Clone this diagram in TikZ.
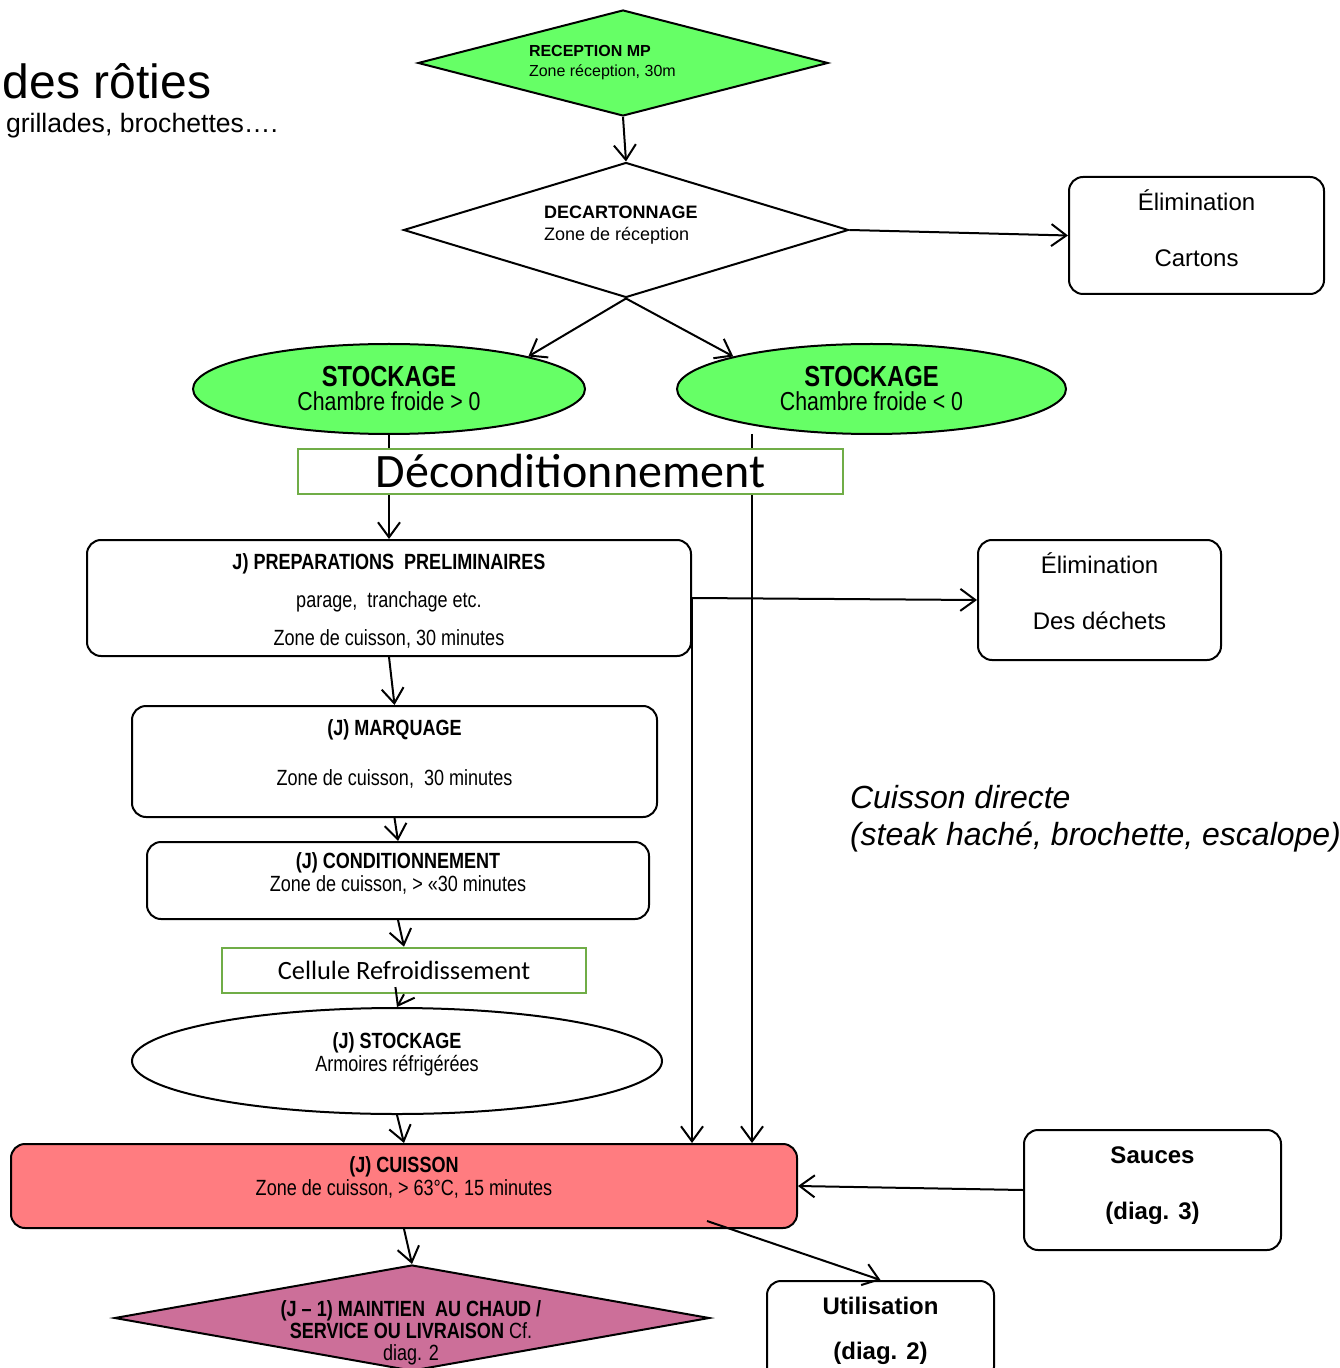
\documentclass[tikz,border=0pt]{standalone}
\usepackage{fontspec}
\setmainfont{Liberation Sans}
\newfontfamily\narrowfont[FakeStretch=0.82]{Liberation Sans}
\newfontfamily\calibrifont{Carlito}
\usepackage{xcolor}
\usetikzlibrary{arrows.meta,shapes.geometric}
\definecolor{vertmp}{HTML}{66FF66}
\definecolor{vertcadre}{HTML}{70AD47}
\definecolor{rougecuisson}{HTML}{FF7C80}
\definecolor{roseservice}{HTML}{CC6F99}

\begin{document}
\begin{tikzpicture}[x=0.5pt, y=-0.5pt, line width=1pt,
  fleche/.style={-{Straight Barb[length=7.5pt,width=11pt]}},
  etape/.style={draw, rounded corners=7pt, align=center, inner sep=0pt,
    font=\narrowfont\fontsize{11}{11.5}\selectfont},
  sortie/.style={draw, rounded corners=7pt, align=center, inner sep=0pt,
    font=\fontsize{12}{14}\selectfont},
  losange/.style={diamond, draw, inner sep=0pt},
  stock/.style={ellipse, draw, inner sep=0pt, align=center},
  cadrevert/.style={draw=vertcadre, line width=1.3pt, fill=white, inner sep=0pt}]

  \clip (0,0) rectangle (1339,1368);

  % ================= TITLE =================
  \node[anchor=west, inner sep=0pt, font=\fontsize{24}{28}\selectfont] (titre) at (2,81) {des rôties};
  \node[anchor=west, inner sep=0pt, font=\fontsize{13.3}{16}\selectfont] (soustitre) at (5,126) {grillades, brochettes….};

  % ================= RECEPTION =================
  \node[losange, fill=vertmp, minimum width=205pt, minimum height=53pt] (recep) at (623,63) {};
  \node[anchor=west, align=left, inner sep=0pt, font=\fontsize{8}{10}\selectfont] (receptxt) at (528,63)
    {\textbf{RECEPTION MP}\\Zone réception, 30m};

  \node[losange, minimum width=222.5pt, minimum height=67.5pt] (decart) at (626,230) {};
  \node[anchor=west, align=left, inner sep=0pt, font=\fontsize{9}{11}\selectfont] (decarttxt) at (543,225)
    {\textbf{DECARTONNAGE}\\Zone de réception};

  \node[sortie, minimum width=127.5pt, minimum height=58.5pt, text depth=7.5pt] (cart) at (1196.5,235.5)
    {Élimination\\[14pt]Cartons};

  % ================= STOCKAGE =================
  \node[stock, fill=vertmp, minimum width=196pt, minimum height=45pt] (stockL) at (389,389)
    {\narrowfont\fontsize{14.5}{13.5}\selectfont\textbf{STOCKAGE}\\\narrowfont\fontsize{13}{14}\selectfont Chambre froide > 0};
  \node[stock, fill=vertmp, minimum width=194.5pt, minimum height=45pt] (stockR) at (871.5,389)
    {\narrowfont\fontsize{14.5}{13.5}\selectfont\textbf{STOCKAGE}\\\narrowfont\fontsize{13}{14}\selectfont Chambre froide < 0};

  % ================= PREPARATION CHAIN =================
  \node[etape, minimum width=302pt, minimum height=58pt] (prep) at (389,598)
    {\rule{0pt}{11pt}\textbf{J) PREPARATIONS~ PRELIMINAIRES}\\[7.5pt]parage,~ tranchage etc.\\[7.5pt]Zone de cuisson, 30 minutes};
  \node[sortie, minimum width=121.5pt, minimum height=60pt, text depth=9pt] (dech) at (1099.5,600)
    {Élimination\\[14pt]Des déchets};

  \node[etape, minimum width=262.5pt, minimum height=55.5pt, text depth=9pt] (marq) at (394.5,761.5)
    {\textbf{(J) MARQUAGE}\\[13.5pt]Zone de cuisson,~ 30 minutes};
  \node[etape, minimum width=251pt, minimum height=38.5pt, text depth=8.5pt] (cond) at (398,880.5)
    {\textbf{(J) CONDITIONNEMENT}\\Zone de cuisson, > «30 minutes};
  \node[stock, minimum width=265pt, minimum height=53pt, text depth=8.5pt,
    font=\narrowfont\fontsize{11}{11.5}\selectfont] (stockJ) at (397,1061)
    {\textbf{(J) STOCKAGE}\\Armoires réfrigérées};

  % ================= CUISSON =================
  \node[etape, fill=rougecuisson, minimum width=393pt, minimum height=42pt, text depth=9.5pt] (cuis) at (404,1186)
    {\textbf{(J) CUISSON}\\Zone de cuisson, > 63°C, 15 minutes};
  \node[sortie, font=\bfseries\fontsize{12}{14}\selectfont, minimum width=128.5pt, minimum height=60pt,
    text depth=7pt] (sauce) at (1152.5,1190) {Sauces\\[14pt](diag. 3)};
  \node[sortie, font=\bfseries\fontsize{12}{14}\selectfont, minimum width=113.5pt, minimum height=50pt] (util) at (880.5,1331)
    {Utilisation\\[8.5pt](diag. 2)};

  \node[losange, fill=roseservice, minimum width=297.5pt, minimum height=53pt] (maint) at (412,1318) {};
  \node[align=center, inner sep=0pt, font=\narrowfont\fontsize{11}{11}\selectfont] (mainttxt) at (411,1333)
    {\textbf{(J – 1) MAINTIEN~ AU CHAUD /}\\\textbf{SERVICE OU LIVRAISON} Cf.\\diag. 2};

  \node[anchor=west, align=left, inner sep=0pt, font=\itshape\fontsize{16}{18.5}\selectfont] (direct) at (849,819)
    {Cuisson directe\\(steak haché, brochette, escalope)};

  % ================= CONNECTORS =================
  \coordinate (rdrop) at (752,434);
  \coordinate (cuisout) at (707,1221);
  \draw[fleche] (recep.south) -- (decart.north);
  \draw[fleche] (decart.east) -- (cart.west);
  \draw[fleche] (decart.south) -- (stockL.north east);
  \draw[fleche] (decart.south) -- (stockR.north west);
  \draw[fleche] (stockL.south) -- (prep.north);
  \draw[fleche] (rdrop) -- (rdrop |- cuis.north);
  \draw[fleche] (prep.east) -- (dech.west);
  \draw[fleche] (prep.east) -- (prep.east |- cuis.north);
  \draw[fleche] (prep.south) -- (marq.north);
  \draw[fleche] (marq.south) -- (cond.north);
  \draw[fleche] (stockJ.south) -- (cuis.north);
  \draw[fleche] (cuis.south) -- (maint.north);
  \draw[fleche] (sauce.west) -- (cuis.east);
  \draw[fleche] (cuisout) -- (util.north);

  % green frames drawn over the vertical lines
  \node[cadrevert, minimum width=272.5pt, minimum height=22.5pt,
    font=\calibrifont\fontsize{24}{24}\selectfont] (decond) at (570.5,471.5) {Déconditionnement};
  \node[cadrevert, minimum width=182pt, minimum height=22.5pt,
    font=\calibrifont\fontsize{13.2}{14}\selectfont] (cell) at (404,970.5) {Cellule Refroidissement};
  \draw[fleche] (cond.south) -- (cell.north);
  \draw[fleche] (cell.south) -- (stockJ.north);

\end{tikzpicture}
\end{document}
